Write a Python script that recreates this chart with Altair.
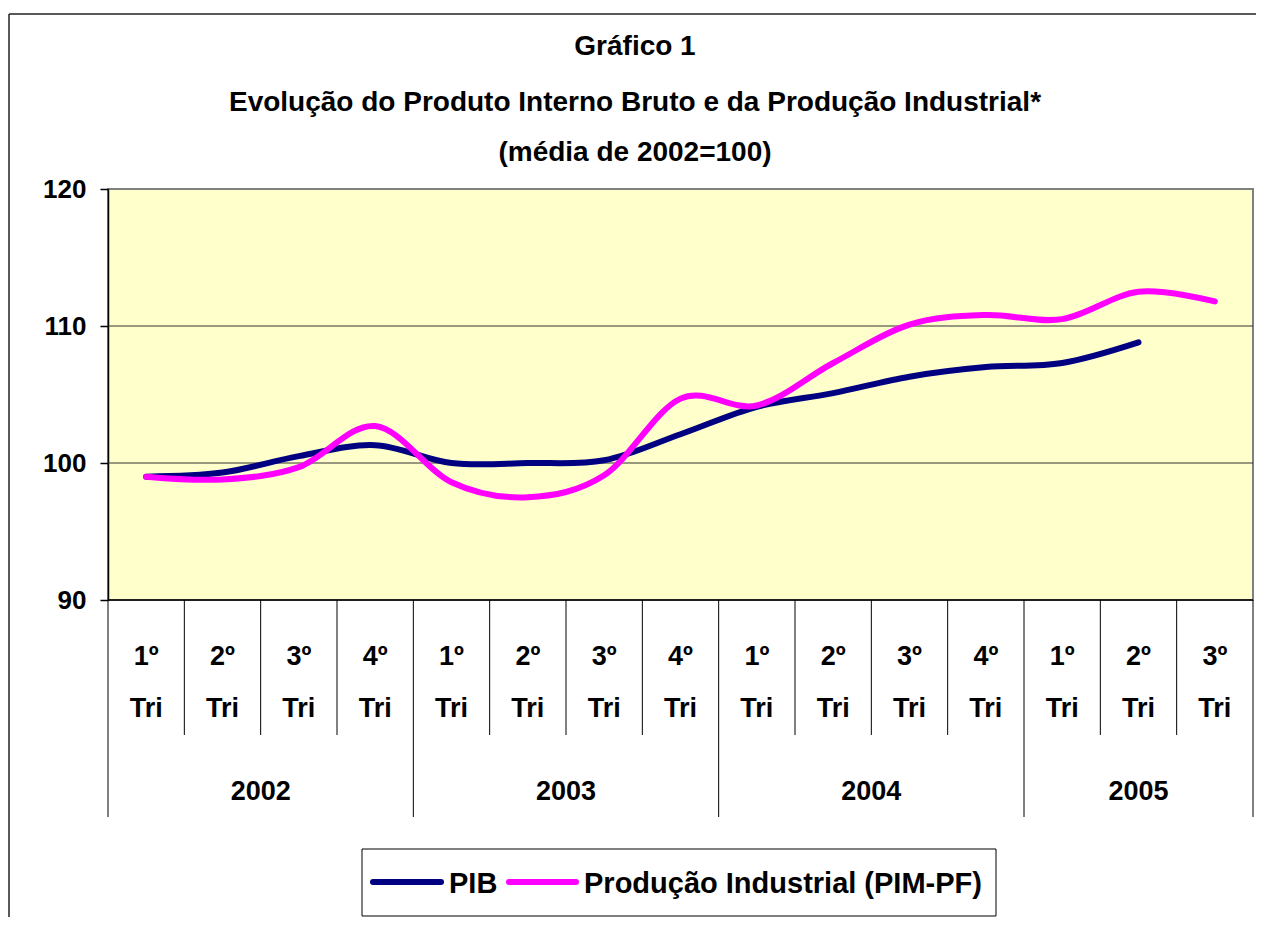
import altair as alt
import pandas as pd

# ---------------- data ----------------
quarters = ["1º", "2º", "3º", "4º", "1º", "2º", "3º", "4º",
            "1º", "2º", "3º", "4º", "1º", "2º", "3º"]
years = ["2002", "2002", "2002", "2002", "2003", "2003", "2003", "2003",
         "2004", "2004", "2004", "2004", "2005", "2005", "2005"]
pib = [99.0, 99.3, 100.5, 101.3, 100.0, 100.0, 100.2, 102.1,
       104.1, 105.1, 106.3, 107.0, 107.3, 108.8, None]
pim = [99.0, 98.8, 99.7, 102.7, 98.6, 97.5, 99.1, 104.7,
       104.2, 107.3, 110.1, 110.8, 110.5, 112.5, 111.8]
series_names = ["PIB", "Produção Industrial (PIM-PF)"]
title_lines = ["Gráfico 1",
               "Evolução do Produto Interno Bruto e da Produção Industrial*",
               "(média de 2002=100)"]
y_ticks = [90, 100, 110, 120]
grid_values = [100, 110]
sub_label = "Tri"

# ---------------- tables ----------------
n = len(quarters)
idx = list(range(n))
df_pib = pd.DataFrame({"idx": idx, "value": pib}).dropna()
df_pim = pd.DataFrame({"idx": idx, "value": pim}).dropna()
df_cat = pd.DataFrame({"idx": idx, "q": quarters, "sub": [sub_label] * n})

year_order = list(dict.fromkeys(years))
year_pos = [sum(i for i, y in enumerate(years) if y == yr) /
            years.count(yr) for yr in year_order]
df_year = pd.DataFrame({"pos": year_pos, "year": year_order})

short_sep = [i + 0.5 for i in range(n - 1) if years[i] == years[i + 1]]
long_sep = [-0.5] + [i + 0.5 for i in range(n - 1) if years[i] != years[i + 1]] + [n - 0.5]
df_short = pd.DataFrame({"pos": short_sep})
df_long = pd.DataFrame({"pos": long_sep})
df_grid = pd.DataFrame({"g": grid_values})

FONT = "Liberation Sans, Arial, sans-serif"
FS = 27
W, H = 1145, 411

xscale = alt.Scale(domain=[-0.5, n - 0.5], nice=False, zero=False)
yscale = alt.Scale(domain=[y_ticks[0], y_ticks[-1]], nice=False, zero=False)
yaxis = alt.Axis(values=y_ticks, title=None, grid=False,
                 labelFont=FONT, labelFontSize=26, labelFontWeight="bold",
                 labelColor="black", labelPadding=14, labelFlush=False,
                 tickColor="black", tickSize=8, tickWidth=1.5,
                 domainColor="black", domainWidth=1.5)

one = pd.DataFrame({"a": [0]})

grid = alt.Chart(df_grid).mark_rule(color="#333333", strokeWidth=1).encode(
    y=alt.Y("g:Q", scale=yscale, axis=yaxis))

line_pib = alt.Chart(df_pib).mark_line(
    color="#000080", strokeWidth=6, interpolate="cardinal", strokeCap="round"
).encode(x=alt.X("idx:Q", scale=xscale, axis=None),
         y=alt.Y("value:Q", scale=yscale, axis=yaxis))

line_pim = alt.Chart(df_pim).mark_line(
    color="#FF00FF", strokeWidth=6, interpolate="cardinal", strokeCap="round"
).encode(x=alt.X("idx:Q", scale=xscale, axis=None),
         y=alt.Y("value:Q", scale=yscale, axis=yaxis))

bottom_axis = alt.Chart(one).mark_rule(color="black", strokeWidth=1.5).encode(
    x=alt.value(0), x2=alt.value(W), y=alt.value(H))

sep_short = alt.Chart(df_short).mark_rule(color="black", strokeWidth=1).encode(
    x=alt.X("pos:Q", scale=xscale, axis=None), y=alt.value(H), y2=alt.value(546))
sep_long = alt.Chart(df_long).mark_rule(color="black", strokeWidth=1).encode(
    x=alt.X("pos:Q", scale=xscale, axis=None), y=alt.value(H), y2=alt.value(628))

q_text = alt.Chart(df_cat).mark_text(
    font=FONT, fontSize=FS, fontWeight="bold", color="black", baseline="alphabetic"
).encode(x=alt.X("idx:Q", scale=xscale, axis=None), y=alt.value(476), text="q:N")
sub_text = alt.Chart(df_cat).mark_text(
    font=FONT, fontSize=FS, fontWeight="bold", color="black", baseline="alphabetic"
).encode(x=alt.X("idx:Q", scale=xscale, axis=None), y=alt.value(528), text="sub:N")
year_text = alt.Chart(df_year).mark_text(
    font=FONT, fontSize=FS, fontWeight="bold", color="black", baseline="alphabetic"
).encode(x=alt.X("pos:Q", scale=xscale, axis=None), y=alt.value(611), text="year:N")

title_y = [-142, -86, -36]
titles = [alt.Chart(one).mark_text(
    text=t, font=FONT, fontSize=28, fontWeight="bold", color="black",
    baseline="middle", align="center"
).encode(x=alt.value(527), y=alt.value(ty)) for t, ty in zip(title_lines, title_y)]

frame_top = alt.Chart(one).mark_rule(color="#222222", strokeWidth=1.5).encode(
    x=alt.value(-99), x2=alt.value(1170), y=alt.value(-175))
frame_left = alt.Chart(one).mark_rule(color="#222222", strokeWidth=1.5).encode(
    x=alt.value(-99), y=alt.value(-175), y2=alt.value(760))

leg_box = alt.Chart(one).mark_rect(fill="white", stroke="black", strokeWidth=1).encode(
    x=alt.value(254), x2=alt.value(888), y=alt.value(660), y2=alt.value(727))
leg_sw1 = alt.Chart(one).mark_rule(color="#000080", strokeWidth=6, strokeCap="round").encode(
    x=alt.value(265), x2=alt.value(333), y=alt.value(693))
leg_sw2 = alt.Chart(one).mark_rule(color="#FF00FF", strokeWidth=6, strokeCap="round").encode(
    x=alt.value(401), x2=alt.value(468), y=alt.value(693))
leg_t1 = alt.Chart(one).mark_text(
    text=series_names[0], font=FONT, fontSize=29, fontWeight="bold", color="black",
    align="left", baseline="alphabetic").encode(x=alt.value(341), y=alt.value(704))
leg_t2 = alt.Chart(one).mark_text(
    text=series_names[1], font=FONT, fontSize=29, fontWeight="bold", color="black",
    align="left", baseline="alphabetic").encode(x=alt.value(476), y=alt.value(704))

chart = alt.layer(
    grid, line_pib, line_pim, bottom_axis, sep_short, sep_long,
    q_text, sub_text, year_text, *titles, frame_top, frame_left,
    leg_box, leg_sw1, leg_sw2, leg_t1, leg_t2
).properties(
    width=W, height=H,
    padding={"left": 100, "top": 181, "right": 3, "bottom": 317},
    autosize=alt.AutoSizeParams(type="none"),
    background="white",
).configure_view(fill="#FFFFCC", stroke="#808080", strokeWidth=2)

chart.save("out.html", embed_options={"renderer": "svg", "actions": False})
